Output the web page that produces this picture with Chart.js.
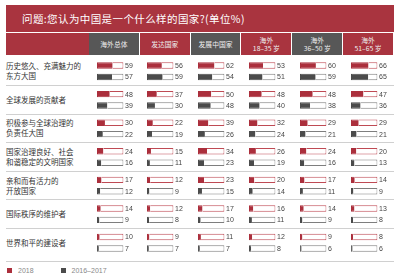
<!DOCTYPE html>
<html>
<head>
<meta charset="utf-8">
<script src="https://cdn.jsdelivr.net/npm/chart.js@4/dist/chart.umd.min.js"></script>
<style>
    body { margin: 0; width: 400px; height: 278px; background: #fff; position: relative; overflow: hidden;
        font-family: "Noto Sans CJK SC", sans-serif; }
    #title { position: absolute; left: 6px; top: 5px; width: 372px; height: 27px; padding-left: 16px;
        background: #a9343f; color: #fff; font-size: 10.5px; line-height: 27px; letter-spacing: 0.4px; }
    .hcell { position: absolute; top: 33px; height: 22px; color: #eee; font-size: 6.8px; line-height: 8.5px;
        display: flex; align-items: center; justify-content: center; text-align: center; white-space: pre; }
    .row { position: absolute; left: 6px; width: 80px; display: flex; align-items: center;
        font-size: 7.5px; line-height: 10px; color: #333; white-space: pre; }
    .rule { position: absolute; left: 6px; width: 388px; height: 1px; background: #d0d0d0; }
    canvas { position: absolute; }
    #legend { position: absolute; left: 7px; top: 266px; font-size: 7px; color: #888;
        font-family: "Liberation Sans", sans-serif; }
    #legend span { display: inline-block; vertical-align: middle; }
    .sw { width: 5px; height: 5px; margin-right: 6px; }
</style>
</head>
<body>
<div id="title">问题:您认为中国是一个什么样的国家?(单位%)</div>
<div id="legend">
    <span class="sw" style="background:#ab2f3c"></span><span style="margin-right:25px">2018</span>
    <span class="sw" style="background:#4b4b4b"></span><span>2016–2017</span>
</div>
<script>
const categories = [
    '历史悠久、充满魅力的\n东方大国',
    '全球发展的贡献者',
    '积极参与全球治理的\n负责任大国',
    '国家治理良好、社会\n和谐稳定的文明国家',
    '亲和而有活力的\n开放国家',
    '国际秩序的维护者',
    '世界和平的建设者',
];

const groups = ['海外总体', '发达国家', '发展中国家', '海外\n18–35 岁', '海外\n36–50 岁', '海外\n51–65 岁'];

const total2018 = [59, 48, 30, 24, 17, 14, 10];
const total2016 = [57, 39, 22, 16, 12, 9, 7];
const developed2018 = [56, 37, 22, 15, 12, 12, 9];
const developed2016 = [59, 30, 19, 11, 9, 8, 7];
const developing2018 = [62, 50, 39, 34, 23, 17, 11];
const developing2016 = [54, 48, 26, 23, 15, 10, 7];
const age18to35_2018 = [53, 48, 32, 26, 20, 16, 12];
const age18to35_2016 = [51, 40, 24, 19, 14, 11, 8];
const age36to50_2018 = [60, 48, 29, 24, 17, 14, 9];
const age36to50_2016 = [59, 38, 21, 16, 11, 9, 6];
const age51to65_2018 = [66, 47, 29, 20, 14, 13, 8];
const age51to65_2016 = [65, 36, 21, 13, 9, 8, 6];

const columns = [
    [total2018, total2016],
    [developed2018, developed2016],
    [developing2018, developing2016],
    [age18to35_2018, age18to35_2016],
    [age36to50_2018, age36to50_2016],
    [age51to65_2018, age51to65_2016],
];

const RED = '#ab2f3c';
const RED_EDGE = '#bf4a54';
const GRAY = '#4b4b4b';
const GRAY_EDGE = '#7e7e7e';

const headerColors = ['#575757', '#a9343f', '#575757', '#a9343f', '#575757', '#a9343f'];

const colStart = 89;
const colWidth = 50.83;
const rowsTop = 57;
const rowsHeight = 200;

function el(cls, styles, text) {
    const d = document.createElement('div');
    d.className = cls;
    Object.assign(d.style, styles);
    if (text) d.textContent = text;
    document.body.appendChild(d);
    return d;
}

// header band
el('hcell', { left: '6px', width: (colStart - 6) + 'px', background: '#a9343f' });
groups.forEach((g, i) => {
    el('hcell', {
        left: (colStart + i * colWidth) + 'px',
        width: (colWidth - 1) + 'px',
        background: headerColors[i],
    }, g);
});

// row labels and separators
const pitch = rowsHeight / categories.length;
categories.forEach((c, i) => {
    el('row', { top: (rowsTop + i * pitch) + 'px', height: pitch + 'px' }, c);
    if (i > 0) el('rule', { top: Math.round(rowsTop + i * pitch - 0.5) + 'px' });
});
el('rule', { top: '261px' });

const valueLabels = {
    id: 'valueLabels',
    afterDatasetsDraw(chart) {
        const { ctx } = chart;
        const x = chart.scales.x;
        ctx.save();
        ctx.font = '7px "Liberation Sans", sans-serif';
        ctx.fillStyle = '#444';
        ctx.textBaseline = 'middle';
        [0, 2].forEach((di) => {
            const ds = chart.data.datasets[di];
            chart.getDatasetMeta(di).data.forEach((bar, i) => {
                ctx.fillText(ds.data[i], x.getPixelForValue(100) + 1.5, bar.y + 0.5);
            });
        });
        ctx.restore();
    },
};

function renderColumn(series, i) {
    const canvas = document.createElement('canvas');
    canvas.width = 48;
    canvas.height = rowsHeight;
    canvas.style.left = (colStart + i * colWidth + 6.5) + 'px';
    canvas.style.top = rowsTop + 'px';
    document.body.appendChild(canvas);

    const [now, before] = series;

    new Chart(canvas, {
        type: 'bar',
        data: {
            labels: categories,
            datasets: [
                { data: now, stack: 'a', backgroundColor: RED, borderColor: RED, borderWidth: 1, borderSkipped: 'end' },
                { data: now.map((v) => 100 - v), stack: 'a', backgroundColor: '#fff', borderColor: RED_EDGE, borderWidth: 1, borderSkipped: 'start' },
                { data: before, stack: 'b', backgroundColor: GRAY, borderColor: GRAY, borderWidth: 1, borderSkipped: 'end' },
                { data: before.map((v) => 100 - v), stack: 'b', backgroundColor: '#fff', borderColor: GRAY_EDGE, borderWidth: 1, borderSkipped: 'start' },
            ],
        },
        options: {
            indexAxis: 'y',
            responsive: false,
            animation: false,
            categoryPercentage: 0.8,
            barPercentage: 0.56,
            layout: { padding: { left: 1, right: 20.5, top: 0, bottom: 0 } },
            scales: {
                x: { display: false, stacked: true, min: 0, max: 100 },
                y: { display: false, stacked: true },
            },
            plugins: {
                legend: { display: false },
                tooltip: { enabled: false },
            },
        },
        plugins: [valueLabels],
    });
}

columns.forEach(renderColumn);
</script>
</body>
</html>
